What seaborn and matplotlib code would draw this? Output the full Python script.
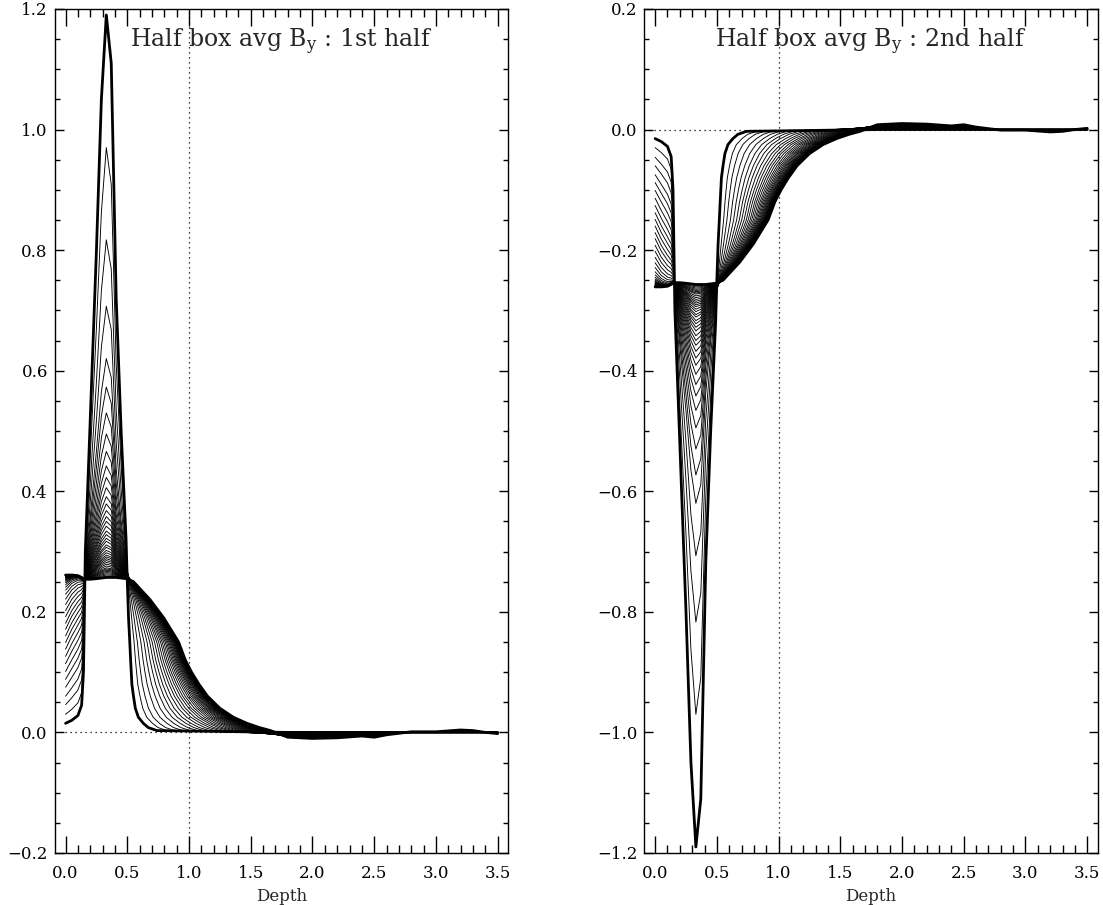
import numpy as np
import pandas as pd
import matplotlib
matplotlib.use("Agg")
import matplotlib.pyplot as plt
import seaborn as sns
from matplotlib.ticker import MultipleLocator, FuncFormatter

# Depth grid of the peak part and the two thick curves on it (1st half)
head_depth = np.array([0.00, 0.05, 0.10, 0.13, 0.145, 0.16, 0.20, 0.25, 0.29, 0.33, 0.37, 0.41, 0.45, 0.49])
first_head = np.array([0.015, 0.020, 0.028, 0.045, 0.100, 0.300, 0.520, 0.800, 1.050, 1.190, 1.110, 0.720, 0.500, 0.320])
last_head = np.array([0.261, 0.261, 0.260, 0.257, 0.255, 0.254, 0.254, 0.255, 0.256, 0.257, 0.257, 0.257, 0.256, 0.255])

# Decaying side: depth where first / last curve reach each level
tail_levels = np.array([0.25, 0.22, 0.19, 0.15, 0.12, 0.10, 0.08, 0.06, 0.04, 0.025, 0.015, 0.008, 0.003])
first_tail_depth = np.array([0.50, 0.505, 0.51, 0.52, 0.527, 0.532, 0.537, 0.55, 0.565, 0.59, 0.63, 0.67, 0.74])
last_tail_depth = np.array([0.55, 0.685, 0.795, 0.915, 0.97, 1.02, 1.08, 1.15, 1.25, 1.36, 1.47, 1.57, 1.66])

# Deep part, last curve (first curve is ~0 there)
far_depth = np.array([1.8, 2.0, 2.2, 2.4, 2.5, 2.6, 2.8, 3.0, 3.2, 3.3, 3.4, 3.5])
far_last = np.array([-0.008, -0.010, -0.009, -0.006, -0.008, -0.004, 0.001, 0.001, 0.004, 0.003, 0.000, -0.002])

# One entry per curve
peak_values = [1.190, 0.970, 0.817, 0.707, 0.620, 0.573, 0.530, 0.495, 0.466, 0.442, 0.423, 0.406,
               0.391, 0.379, 0.368, 0.358, 0.350, 0.342, 0.334, 0.328, 0.322, 0.317, 0.311, 0.307,
               0.302, 0.298, 0.294, 0.291, 0.288, 0.285, 0.282, 0.279, 0.276, 0.273, 0.271, 0.269,
               0.267, 0.265, 0.263, 0.261, 0.259, 0.257]
surface_values = [0.015, 0.030, 0.046, 0.060, 0.075, 0.088, 0.101, 0.114, 0.126, 0.138, 0.149, 0.160,
                  0.171, 0.181, 0.192, 0.202, 0.212, 0.221, 0.229, 0.236, 0.241, 0.245, 0.248, 0.250,
                  0.252, 0.253, 0.254, 0.255, 0.256, 0.2565, 0.257, 0.2575, 0.258, 0.2585, 0.259, 0.2593,
                  0.2596, 0.260, 0.2603, 0.2606, 0.2609, 0.261]
cross_depths = [0.532, 0.575, 0.608, 0.643, 0.675, 0.705, 0.732, 0.756, 0.780, 0.802, 0.821, 0.840,
                0.856, 0.872, 0.887, 0.900, 0.912, 0.923, 0.933, 0.942, 0.950, 0.958, 0.965, 0.971,
                0.977, 0.982, 0.987, 0.991, 0.995, 0.998, 1.001, 1.004, 1.007, 1.009, 1.011, 1.013,
                1.015, 1.016, 1.017, 1.018, 1.019, 1.020]

titles = ["Half box avg B$_\\mathrm{y}$ : 1st half", "Half box avg B$_\\mathrm{y}$ : 2nd half"]
signs = [1, -1]  # 2nd half is the mirror image of the 1st
ylims = [(-0.2, 1.2), (-1.2, 0.2)]


def build_curves(sign):
    peak_i = int(np.argmax(first_head))
    rows = []
    for k in range(len(peak_values)):
        w_s = (surface_values[k] - last_head[0]) / (first_head[0] - last_head[0])
        w_p = (peak_values[k] - last_head[peak_i]) / (first_head[peak_i] - last_head[peak_i])
        u = (cross_depths[k] - cross_depths[0]) / (cross_depths[-1] - cross_depths[0])
        # near the surface the later curves ramp up instead of staying flat
        w_left = w_s ** (1 + 0.8 * head_depth / 0.16)
        w = np.where(head_depth < 0.16, w_left, w_p)
        head = last_head + (first_head - last_head) * w
        tail_x = first_tail_depth + (last_tail_depth - first_tail_depth) * u
        xs = np.concatenate([head_depth, tail_x, far_depth])
        ys = np.concatenate([head, tail_levels, far_last * u]) * sign
        rows.append(pd.DataFrame({"depth": xs, "by": ys, "curve": k}))
    return pd.concat(rows, ignore_index=True)


sns.set_style("ticks")
plt.rcParams['font.family'] = ['DejaVu Serif']
plt.rcParams['mathtext.fontset'] = 'dejavuserif'

fig = plt.figure(figsize=(11.03, 9.05), dpi=100)
lefts = [0.0496, 0.5841]
minus_fmt = FuncFormatter(lambda v, p: f"{v:.1f}".replace("-", "\u2212"))

for i in range(2):
    ax = fig.add_axes([lefts[i], 0.0575, 0.411, 0.9326])
    df = build_curves(signs[i])
    n = df["curve"].max()
    thin = df[(df["curve"] > 0) & (df["curve"] < n)]
    thick = df[(df["curve"] == 0) | (df["curve"] == n)]

    ax.axhline(0, color="black", lw=0.9, ls=(0, (1, 3)), zorder=0)
    ax.axvline(1.0, color="black", lw=0.9, ls=(0, (1, 3)), zorder=0)
    sns.lineplot(data=thin, x="depth", y="by", units="curve", estimator=None, sort=False,
                 color="black", linewidth=0.65, ax=ax, legend=False)
    sns.lineplot(data=thick, x="depth", y="by", units="curve", estimator=None, sort=False,
                 color="black", linewidth=2.0, ax=ax, legend=False)

    ax.set_xlim(-0.088, 3.584)
    ax.set_ylim(*ylims[i])
    ax.xaxis.set_major_locator(MultipleLocator(0.5))
    ax.xaxis.set_minor_locator(MultipleLocator(0.1))
    ax.yaxis.set_major_locator(MultipleLocator(0.2))
    ax.yaxis.set_minor_locator(MultipleLocator(0.05))
    ax.xaxis.set_major_formatter(minus_fmt)
    ax.yaxis.set_major_formatter(minus_fmt)
    ax.tick_params(which="both", direction="in", top=True, right=True, colors="black", width=1.0)
    ax.tick_params(axis="x", which="major", length=12, pad=9, labelsize=12)
    ax.tick_params(axis="x", which="minor", length=6)
    ax.tick_params(axis="y", which="major", length=6.5, pad=5, labelsize=12)
    ax.tick_params(axis="y", which="minor", length=3.5)
    for s in ax.spines.values():
        s.set_color("black")
        s.set_linewidth(1.0)

    ax.set_xlabel("Depth", fontsize=12, labelpad=4)
    ax.set_ylabel("")
    ax.text(0.5, 0.961, titles[i], transform=ax.transAxes, ha="center", va="center", fontsize=17)

fig.savefig("out.png", dpi=100)
